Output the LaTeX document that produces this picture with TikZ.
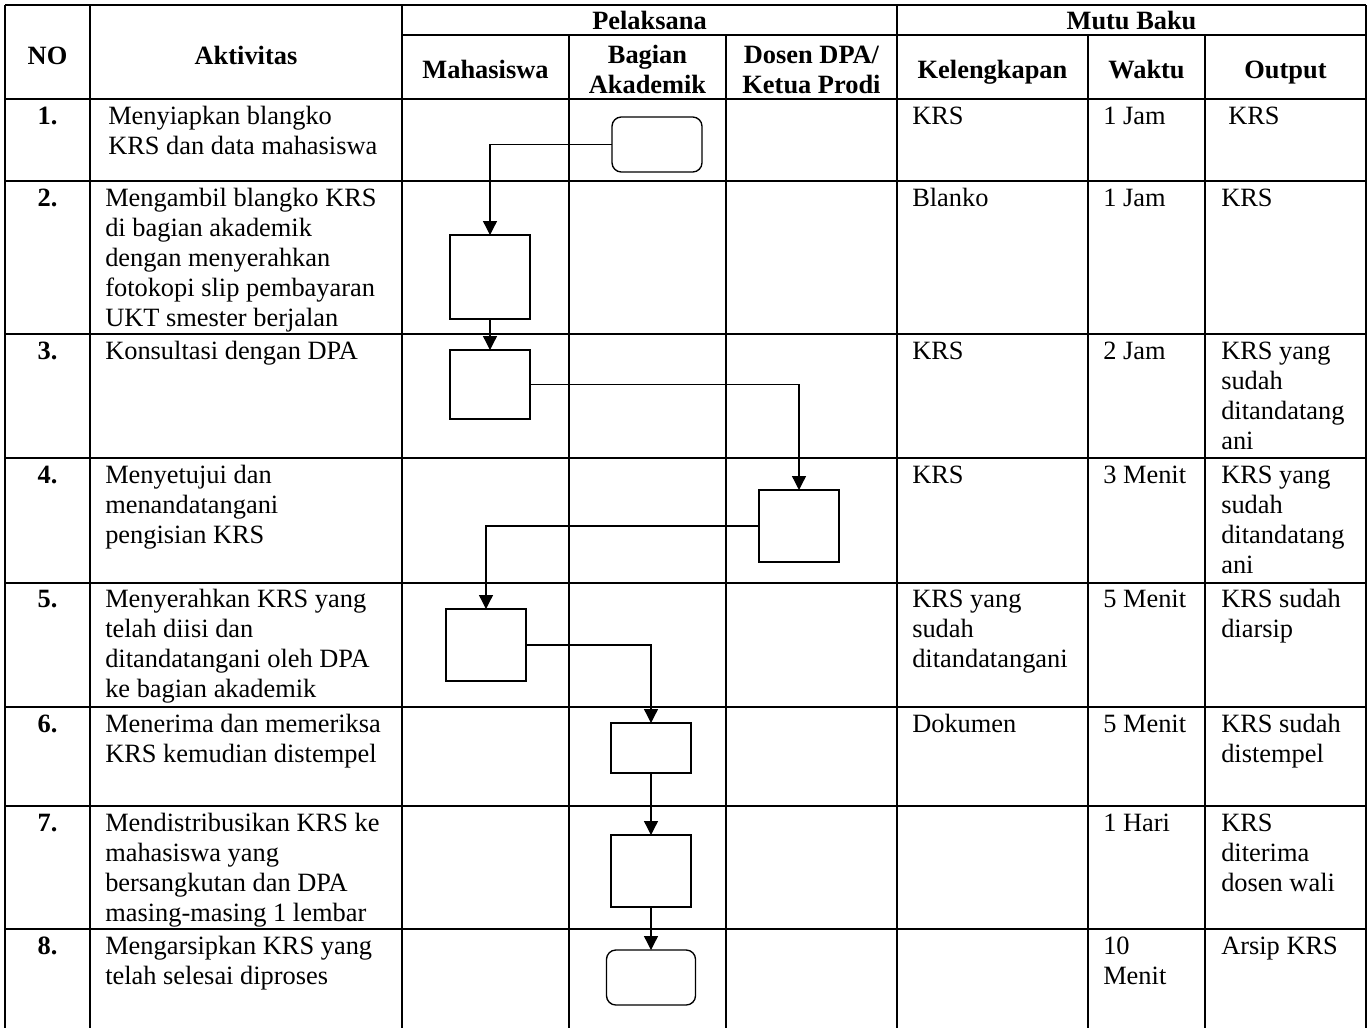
\documentclass[tikz,border=0pt]{standalone}
\usepackage{fontspec}
\setmainfont{Liberation Serif}
\usetikzlibrary{arrows.meta}
\newcommand{\fsz}{\fontsize{19.8}{22.5}\selectfont}
\newcommand{\lft}[1]{\vtop{\halign{##\hfil\cr#1\crcr}}}
\newcommand{\ctr}[1]{\vtop{\halign{\hfil##\hfil\cr#1\crcr}}}
\begin{document}
\begin{tikzpicture}[x=0.75pt,y=-0.75pt,
  tbl/.style={line width=1.5pt,black},
  proc/.style={draw,line width=1pt,rectangle,inner sep=0pt,outer sep=0pt,minimum width=60pt},
  term/.style={proc,rounded corners=7pt},
  flow/.style={line width=1pt,-{Triangle[width=10.5pt,length=10.5pt]}},
  cell/.style={anchor=base west,inner sep=0pt,font=\fsz},
  num/.style={anchor=base,inner sep=0pt,font=\fsz\bfseries},
  head/.style={anchor=base,inner sep=0pt,font=\fsz\bfseries}]
\useasboundingbox (0,0) rectangle (1368,1028);
% table lines
\draw[tbl] (5,5) -- (1366,5);
\draw[tbl] (402,35) -- (1366,35);
\foreach \yy in {99,181,334,458,583,707,806,929} \draw[tbl] (5,\yy) -- (1366,\yy);
\foreach \xx in {5,90,402,897,1366} \draw[tbl] (\xx,5) -- (\xx,1028);
\foreach \xx in {569,726,1088,1205} \draw[tbl] (\xx,35) -- (\xx,1028);
% headers
\node[head] (hNO) at (47.5,64) {NO};
\node[head] (hAkt) at (246,64) {Aktivitas};
\node[head] (hPel) at (649.5,29) {Pelaksana};
\node[head] (hMutu) at (1131.5,29) {Mutu Baku};
\node[head] (hMhs) at (485.5,78) {Mahasiswa};
\node[head] (hBag) at (647.5,63) {\ctr{Bagian\cr Akademik}};
\node[head] (hDos) at (811.5,63) {\ctr{Dosen DPA/\cr Ketua Prodi}};
\node[head] (hKel) at (992.5,78) {Kelengkapan};
\node[head] (hWak) at (1146.5,78) {Waktu};
\node[head] (hOut) at (1285.5,78) {Output};
% row 1
\node[num] (n1) at (47.5,124) {1.};
\node[cell] (a1) at (108,124) {\lft{Menyiapkan blangko\cr KRS dan data mahasiswa}};
\node[cell] (k1) at (912,124) {KRS};
\node[cell] (w1) at (1103,124) {1 Jam};
\node[cell] (o1) at (1228,124) {KRS};
% row 2
\node[num] (n2) at (47.5,206) {2.};
\node[cell] (a2) at (105,206) {\lft{Mengambil blangko KRS\cr di bagian akademik\cr dengan menyerahkan\cr fotokopi slip pembayaran\cr UKT smester berjalan}};
\node[cell] (k2) at (912,206) {Blanko};
\node[cell] (w2) at (1103,206) {1 Jam};
\node[cell] (o2) at (1221,206) {KRS};
% row 3
\node[num] (n3) at (47.5,359) {3.};
\node[cell] (a3) at (105,359) {Konsultasi dengan DPA};
\node[cell] (k3) at (912,359) {KRS};
\node[cell] (w3) at (1103,359) {2 Jam};
\node[cell] (o3) at (1221,359) {\lft{KRS yang\cr sudah\cr ditandatang\cr ani}};
% row 4
\node[num] (n4) at (47.5,483) {4.};
\node[cell] (a4) at (105,483) {\lft{Menyetujui dan\cr menandatangani\cr pengisian KRS}};
\node[cell] (k4) at (912,483) {KRS};
\node[cell] (w4) at (1103,483) {3 Menit};
\node[cell] (o4) at (1221,483) {\lft{KRS yang\cr sudah\cr ditandatang\cr ani}};
% row 5
\node[num] (n5) at (47.5,607) {5.};
\node[cell] (a5) at (105,607) {\lft{Menyerahkan KRS yang\cr telah diisi dan\cr ditandatangani oleh DPA\cr ke bagian akademik}};
\node[cell] (k5) at (912,607) {\lft{KRS yang\cr sudah\cr ditandatangani}};
\node[cell] (w5) at (1103,607) {5 Menit};
\node[cell] (o5) at (1221,607) {\lft{KRS sudah\cr diarsip}};
% row 6
\node[num] (n6) at (47.5,732) {6.};
\node[cell] (a6) at (105,732) {\lft{Menerima dan memeriksa\cr KRS kemudian distempel}};
\node[cell] (k6) at (912,732) {Dokumen};
\node[cell] (w6) at (1103,732) {5 Menit};
\node[cell] (o6) at (1221,732) {\lft{KRS sudah\cr distempel}};
% row 7
\node[num] (n7) at (47.5,831) {7.};
\node[cell] (a7) at (105,831) {\lft{Mendistribusikan KRS ke\cr mahasiswa yang\cr bersangkutan dan DPA\cr masing-masing 1 lembar}};
\node[cell] (w7) at (1103,831) {1 Hari};
\node[cell] (o7) at (1221,831) {\lft{KRS\cr diterima\cr dosen wali}};
% row 8
\node[num] (n8) at (47.5,954) {8.};
\node[cell] (a8) at (105,954) {\lft{Mengarsipkan KRS yang\cr telah selesai diproses}};
\node[cell] (w8) at (1103,954) {\lft{10\cr Menit}};
\node[cell] (o8) at (1221,954) {Arsip KRS};
% flow shapes
\node[term,minimum width=67.5pt,minimum height=41.25pt] (b1) at (657,144.5) {};
\node[proc,minimum height=63pt] (b2) at (490,277) {};
\node[proc,minimum height=51.75pt] (b3) at (490,384.5) {};
\node[proc,minimum height=54pt] (b4) at (799,526) {};
\node[proc,minimum height=54pt] (b5) at (486,645) {};
\node[proc,minimum height=37.5pt] (b6) at (651,748) {};
\node[proc,minimum height=54pt] (b7) at (651,871) {};
\node[term,minimum width=66.75pt,minimum height=41.25pt] (b8) at (651,977.5) {};
% connectors
\draw[flow] (b1.west) -| (b2.north);
\draw[flow] (b2.south) -- (b3.north);
\draw[flow] (b3.east) -| (b4.north);
\draw[flow] (b4.west) -| (b5.north);
\draw[flow] (b5.east) -| (b6.north);
\draw[flow] (b6.south) -- (b7.north);
\draw[flow] (b7.south) -- (b8.north);
\end{tikzpicture}
\end{document}
